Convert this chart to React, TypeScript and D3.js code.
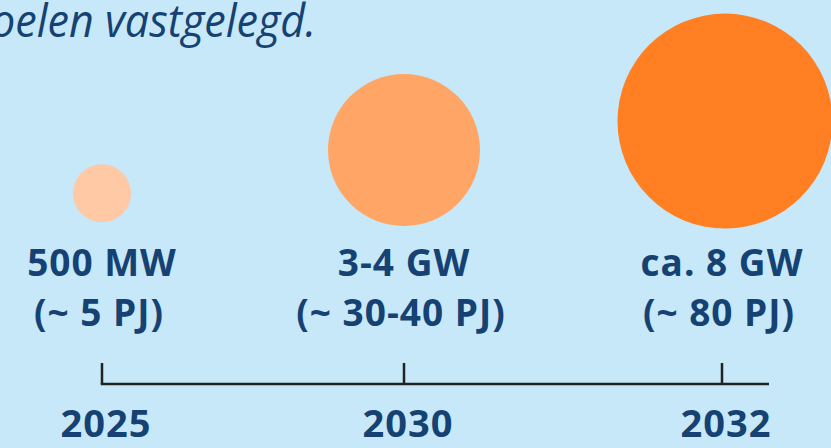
import React, { useEffect, useRef } from "react";
import * as d3 from "d3";

// values
const years = [2025, 2030, 2032];
const capacityGW = [0.5, 3.5, 8];
const capacityLabels = ["500 MW", "3-4 GW", "ca. 8 GW"];
const energyLabels = ["(~ 5 PJ)", "(~ 30-40 PJ)", "(~ 80 PJ)"];
const headerText = "oelen vastgelegd.";

const W = 831;
const H = 448;
const bg = "#c6e8f8";
const textBlue = "#154273";
const circleColors = ["#ffc9a6", "#ffa565", "#ff7f22"];

export default function App() {
  const ref = useRef<SVGSVGElement | null>(null);

  useEffect(() => {
    document.body.style.margin = "0";
    const svg = d3.select(ref.current);
    svg.selectAll("*").remove();

    const x = d3.scaleLinear().domain(years).range([102, 404, 722]);
    const r = d3.scaleSqrt().domain(capacityGW).range([29, 76, 107.5]);
    const font = "'Open Sans', sans-serif";

    svg.append("rect").attr("width", W).attr("height", H).attr("fill", bg);

    // header fragment (cut off sentence, as in the source)
    svg.append("text")
      .attr("x", -9)
      .attr("y", 37)
      .attr("textLength", 325)
      .attr("lengthAdjust", "spacingAndGlyphs")
      .attr("font-family", font)
      .attr("font-style", "italic")
      .attr("font-size", 45)
      .attr("fill", textBlue)
      .text(headerText);

    const data = years.map((y, i) => ({
      year: y,
      gw: capacityGW[i],
      cap: capacityLabels[i],
      pj: energyLabels[i],
      color: circleColors[i],
    }));

    // bubbles, roughly sitting on a common floor
    svg.append("g").selectAll("circle")
      .data(data)
      .join("circle")
      .attr("cx", d => x(d.year) + (d.year === 2032 ? 3 : 0))
      .attr("cy", d => 220 - 0.92 * r(d.gw))
      .attr("r", d => r(d.gw))
      .attr("fill", d => d.color);

    const labels = svg.append("g")
      .attr("font-family", font)
      .attr("font-weight", 700)
      .attr("font-size", 37)
      .attr("letter-spacing", 1)
      .attr("fill", textBlue)
      .attr("text-anchor", "middle");

    labels.selectAll("text.cap")
      .data(data)
      .join("text")
      .attr("class", "cap")
      .attr("x", d => x(d.year))
      .attr("y", 276)
      .text(d => d.cap);

    labels.selectAll("text.pj")
      .data(data)
      .join("text")
      .attr("class", "pj")
      .attr("x", d => x(d.year) - 3)
      .attr("y", 326)
      .text(d => d.pj);

    // timeline axis
    const axisY = 384;
    const axis = svg.append("g").attr("stroke", "#222").attr("stroke-width", 2.5);
    axis.append("line")
      .attr("x1", x(years[0]) - 1.25)
      .attr("x2", 769)
      .attr("y1", axisY)
      .attr("y2", axisY);
    axis.selectAll("line.tick")
      .data(years)
      .join("line")
      .attr("class", "tick")
      .attr("x1", d => x(d))
      .attr("x2", d => x(d))
      .attr("y1", axisY)
      .attr("y2", axisY - 21);

    svg.append("g")
      .attr("font-family", font)
      .attr("font-weight", 700)
      .attr("font-size", 38)
      .attr("letter-spacing", 1)
      .attr("fill", textBlue)
      .attr("text-anchor", "middle")
      .selectAll("text")
      .data(years)
      .join("text")
      .attr("x", d => x(d) + 4)
      .attr("y", 437)
      .text(d => d);
  }, []);

  return <svg ref={ref} width={W} height={H} style={{ display: "block" }} />;
}
